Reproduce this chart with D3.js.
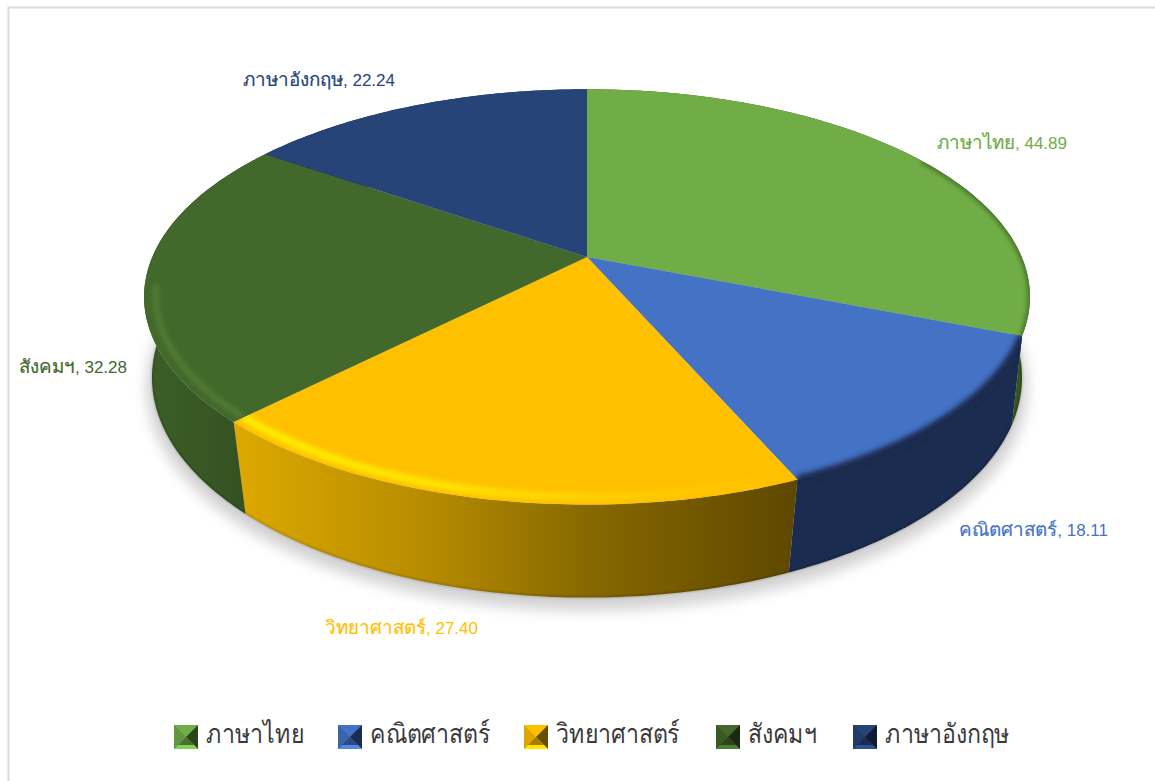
<!DOCTYPE html>
<html>
<head>
<meta charset="utf-8">
<script src="https://cdn.jsdelivr.net/npm/d3@7"></script>
<style>
  body { margin: 0; background: #fff; overflow: hidden; }
  svg { display: block; }
  text { font-family: "Liberation Sans", "Noto Sans", sans-serif; }
</style>
</head>
<body>
<svg id="chart" width="1155" height="781"></svg>
<script>
const categories = ['ภาษาไทย', 'คณิตศาสตร์', 'วิทยาศาสตร์', 'สังคมฯ', 'ภาษาอังกฤษ'];
const values = [44.89, 18.11, 27.40, 32.28, 22.24];

const colors = ['#70AD47', '#4472C4', '#FFC000', '#43682B', '#264478'];

// right edge and baseline of each data label
const labelX = [1067, 1108, 478, 127, 395];
const labelY = [149, 536, 634, 373, 86];
// legend layout
const legendSwatchX = [174, 338, 524, 716, 853];
const legendTextX = [206, 370, 556, 748, 885];

// the pie is seen in perspective: circle -> ellipse, with the apex above the ellipse centre
const topPlane = {cx: 587, cy: 257, a: 434.7, b: 200, k: -0.192};
const basePlane = {cx: 587, cy: 341, a: 429, b: 214, k: -0.166};

function project(p, t, r) {
	const u = Math.sin(t) * r, v = -Math.cos(t) * r, d = 1 + p.k * v;
	return [p.cx + p.a * u / d, p.cy + p.b * v / d];
}
function arcPts(p, a, b, r) {
	const n = Math.max(2, Math.ceil((b - a) * 60));
	return d3.range(n + 1).map(i => project(p, a + (b - a) * i / n, r));
}

const svg = d3.select('#chart');
const defs = svg.append('defs');
const line = d3.line();
const slices = d3.pie().sort(null)(values);
const rad = Math.PI / 180;

function blur(id, dev) {
	defs.append('filter').attr('id', id)
		.attr('filterUnits', 'userSpaceOnUse')
		.attr('x', 0).attr('y', 0).attr('width', 1155).attr('height', 781)
		.append('feGaussianBlur').attr('stdDeviation', dev);
}
blur('blur1', 1);
blur('blur2', 2.8);
blur('blurShadow', 7);

function gradient(id, x1, x2, stops) {
	const g = defs.append('linearGradient').attr('id', id)
		.attr('gradientUnits', 'userSpaceOnUse')
		.attr('x1', x1).attr('x2', x2).attr('y1', 0).attr('y2', 0);
	stops.forEach(s => g.append('stop').attr('offset', s[0]).attr('stop-color', s[1]));
	return 'url(#' + id + ')';
}

const wallFills = [
	'#37561F',
	'#1A2C4F',
	gradient('wallGold', 240, 797, [[0, '#DCA800'], [0.35, '#B58A00'], [0.62, '#876900'], [1, '#5E4700']]),
	gradient('wallSocial', 150, 245, [[0, '#3B5E26'], [1, '#345221']]),
	'#1A2C4F'
];
const rimStrokes = [
	'#2F4A1C',
	'#1A2C4F',
	gradient('rimGold', 235, 797, [[0, '#FFF000'], [0.4, '#FFE400'], [0.65, '#FFD000'], [1, '#FFC000']]),
	'#527F35',
	'none'
];
// where the bevel runs: degrees from twelve o'clock, radius, width
const rimFrom = [58, 111.5, 156.5, 224.6, 304.8];
const rimTo = [111.5, 156.5, 224.6, 262, 360];
const rimRadius = [1, 1, 0.975, 0.975, 1];
const rimWidth = [3, 8, 8, 5, 0];

// page frame
svg.append('rect').attr('x', 8.5).attr('y', 7.5).attr('width', 1200).attr('height', 800)
	.attr('fill', '#fff').attr('stroke', '#dcdcdc').attr('stroke-width', 2);

// soft shadow under the pie
svg.append('path')
	.attr('d', line(arcPts(basePlane, 0, 2 * Math.PI, 1.012)) + 'Z')
	.attr('transform', 'translate(0,9)')
	.attr('fill', '#000').attr('opacity', 0.18)
	.attr('filter', 'url(#blurShadow)');

// walls
const wallPath = d => line(arcPts(basePlane, d.startAngle, d.endAngle, 1)
	.concat(arcPts(topPlane, d.startAngle, d.endAngle, 1).reverse())) + 'Z';
const topPath = d => line([project(topPlane, 0, 0)]
	.concat(arcPts(topPlane, d.startAngle, d.endAngle, 1))) + 'Z';

svg.append('g').selectAll('path').data(slices).enter().append('path')
	.attr('d', wallPath)
	.attr('fill', (d, i) => wallFills[i]);

// darker line along the bottom of the walls
svg.append('g').selectAll('path').data(slices).enter().append('path')
	.attr('d', d => line(arcPts(basePlane, d.startAngle, d.endAngle, 0.999)))
	.attr('fill', 'none').attr('stroke', '#000').attr('stroke-opacity', 0.2).attr('stroke-width', 2)
	.attr('filter', 'url(#blur1)');

// top faces
svg.append('g').selectAll('path').data(slices).enter().append('path')
	.attr('d', topPath)
	.attr('fill', (d, i) => colors[i]);

// bevel along the rim, kept inside its own slice and wall
slices.forEach((d, i) => {
	if (!rimWidth[i]) return;
	const clip = defs.append('clipPath').attr('id', 'clip' + i);
	clip.append('path').attr('d', topPath(d));
	clip.append('path').attr('d', wallPath(d));
	svg.append('g').attr('clip-path', 'url(#clip' + i + ')')
		.append('path')
		.attr('d', line(arcPts(topPlane, rimFrom[i] * rad, rimTo[i] * rad, rimRadius[i])))
		.attr('fill', 'none')
		.attr('stroke', rimStrokes[i])
		.attr('stroke-width', rimWidth[i])
		.attr('filter', 'url(#blur2)');
});

// data labels: the Thai part runs larger and heavier than the digits
const labels = svg.append('g').selectAll('text').data(slices).enter().append('text')
	.attr('x', (d, i) => labelX[i])
	.attr('y', (d, i) => labelY[i])
	.attr('text-anchor', 'end')
	.attr('font-size', 17)
	.attr('fill', (d, i) => colors[i]);
labels.append('tspan')
	.attr('font-size', 18.8)
	.attr('stroke', (d, i) => colors[i])
	.attr('stroke-width', 0.2)
	.text((d, i) => categories[i]);
labels.append('tspan')
	.text((d, i) => ', ' + d3.format('.2f')(values[i]));

// legend
const swatchSize = 24, swatchTop = 725;
const legend = svg.append('g').selectAll('g').data(categories).enter().append('g')
	.attr('transform', (d, i) => 'translate(' + legendSwatchX[i] + ',' + swatchTop + ')');

const c = swatchSize / 2, s = swatchSize, strip = 4;
legend.append('rect').attr('width', s).attr('height', s).attr('fill', (d, i) => colors[i]);
legend.append('path').attr('d', line([[0, 0], [c, c], [0, s]]) + 'Z')
	.attr('fill', (d, i) => d3.color(colors[i]).darker(0.4));
legend.append('path').attr('d', line([[s, 0], [c, c], [s, s]]) + 'Z')
	.attr('fill', (d, i) => d3.color(colors[i]).darker(2.6));
legend.append('path').attr('d', line([[0, s], [c, c], [s, s]]) + 'Z')
	.attr('fill', (d, i) => d3.color(colors[i]).darker(1.2));
legend.append('path').attr('d', line([[0, s], [strip, s - strip], [s - strip, s - strip], [s, s]]) + 'Z')
	.attr('fill', (d, i) => d3.color(colors[i]).brighter(0.5));

// narrow, slightly tall legend lettering
legend.append('text')
	.attr('transform', (d, i) => 'translate(' + (legendTextX[i] - legendSwatchX[i]) + ',18) scale(0.89,1.04)')
	.attr('font-size', 26)
	.attr('fill', '#3a3a3a')
	.text(d => d);
</script>
</body>
</html>
